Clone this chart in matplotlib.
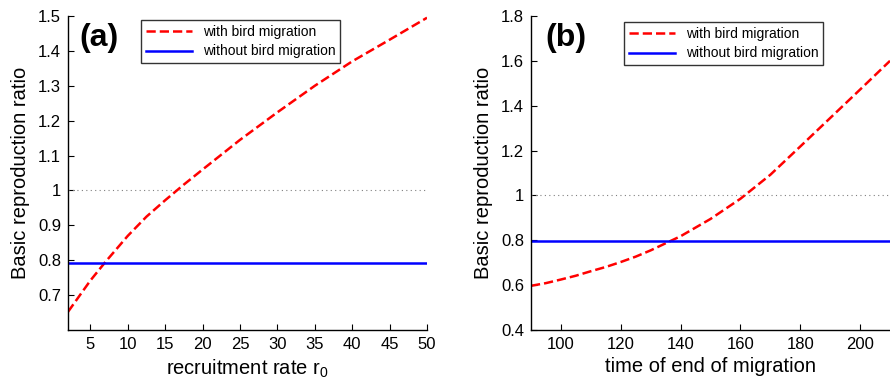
import matplotlib
matplotlib.use("Agg")
from matplotlib import pyplot as plt

plt.rcParams['font.family'] = ['Liberation Sans', 'DejaVu Sans']
plt.rcParams['mathtext.fontset'] = 'custom'
plt.rcParams['mathtext.rm'] = 'Liberation Sans'

# panel (a): recruitment rate
r0 = [2, 5, 7, 10, 12.5, 15, 17.5, 20, 25, 30, 35, 40, 45, 50]
R_mig_a = [0.652, 0.742, 0.795, 0.870, 0.925, 0.972, 1.017, 1.060, 1.145, 1.224, 1.300, 1.370, 1.432, 1.495]
R_nomig_a = 0.793

# panel (b): time of end of migration
t_end = [90, 95, 100, 105, 110, 115, 120, 125, 130, 140, 150, 160, 170, 180, 190, 200, 210]
R_mig_b = [0.597, 0.609, 0.625, 0.642, 0.662, 0.681, 0.703, 0.727, 0.755, 0.818, 0.895, 0.985,
           1.092, 1.218, 1.345, 1.472, 1.600]
R_nomig_b = 0.795

def style_ax(ax):
    for s in ['top', 'right']:
        ax.spines[s].set_visible(False)
    for s in ['left', 'bottom']:
        ax.spines[s].set_linewidth(1.0)
    ax.tick_params(direction='in', length=4, labelsize=12, width=0.8, pad=5)
    ax.set_ylabel('Basic reproduction ratio', fontsize=14.5, labelpad=6)

def main():
    fig = plt.figure(figsize=(8.9, 3.88), dpi=100)
    ax1 = fig.add_axes([0.0764, 0.1495, 0.4034, 0.8093])
    ax2 = fig.add_axes([0.5966, 0.1495, 0.4034, 0.8093])

    ax1.axhline(1, color='gray', linestyle=(0, (1, 3)), linewidth=0.8)
    ax1.plot(r0, R_mig_a, color='red', linestyle='--', linewidth=1.8, label='with bird migration')
    ax1.axhline(R_nomig_a, color='blue', linewidth=1.8, label='without bird migration')
    ax1.set_xlim(2, 50)
    ax1.set_ylim(0.6, 1.5)
    ax1.set_xticks(range(5, 51, 5))
    ax1.set_yticks([0.7, 0.8, 0.9, 1.0, 1.1, 1.2, 1.3, 1.4, 1.5])
    ax1.set_yticklabels(['0.7', '0.8', '0.9', '1', '1.1', '1.2', '1.3', '1.4', '1.5'])
    ax1.set_xlabel(r'recruitment rate r$_{\mathregular{0}}$', fontsize=14.5)
    style_ax(ax1)
    ax1.text(0.033, 0.93, '(a)', transform=ax1.transAxes, fontsize=23, fontweight='bold', va='center')
    ax1.legend(loc='upper left', bbox_to_anchor=(0.203, 0.987), borderaxespad=0, fontsize=10,
               frameon=True, fancybox=False, edgecolor='black', handlelength=3.3,
               borderpad=0.35, labelspacing=0.4)

    ax2.axhline(1, color='gray', linestyle=(0, (1, 3)), linewidth=0.8)
    ax2.plot(t_end, R_mig_b, color='red', linestyle='--', linewidth=1.8, label='with bird migration')
    ax2.axhline(R_nomig_b, color='blue', linewidth=1.8, label='without bird migration')
    ax2.set_xlim(90, 210)
    ax2.set_ylim(0.4, 1.8)
    ax2.set_xticks(range(100, 201, 20))
    ax2.set_yticks([0.4, 0.6, 0.8, 1.0, 1.2, 1.4, 1.6, 1.8])
    ax2.set_yticklabels(['0.4', '0.6', '0.8', '1', '1.2', '1.4', '1.6', '1.8'])
    ax2.set_xlabel('time of end of migration', fontsize=14.5)
    style_ax(ax2)
    ax2.text(0.039, 0.93, '(b)', transform=ax2.transAxes, fontsize=23, fontweight='bold', va='center')
    ax2.legend(loc='upper left', bbox_to_anchor=(0.259, 0.981), borderaxespad=0, fontsize=10,
               frameon=True, fancybox=False, edgecolor='black', handlelength=3.3,
               borderpad=0.35, labelspacing=0.4)

    fig.savefig('out.png', dpi=100)

if __name__ == '__main__':
    main()
